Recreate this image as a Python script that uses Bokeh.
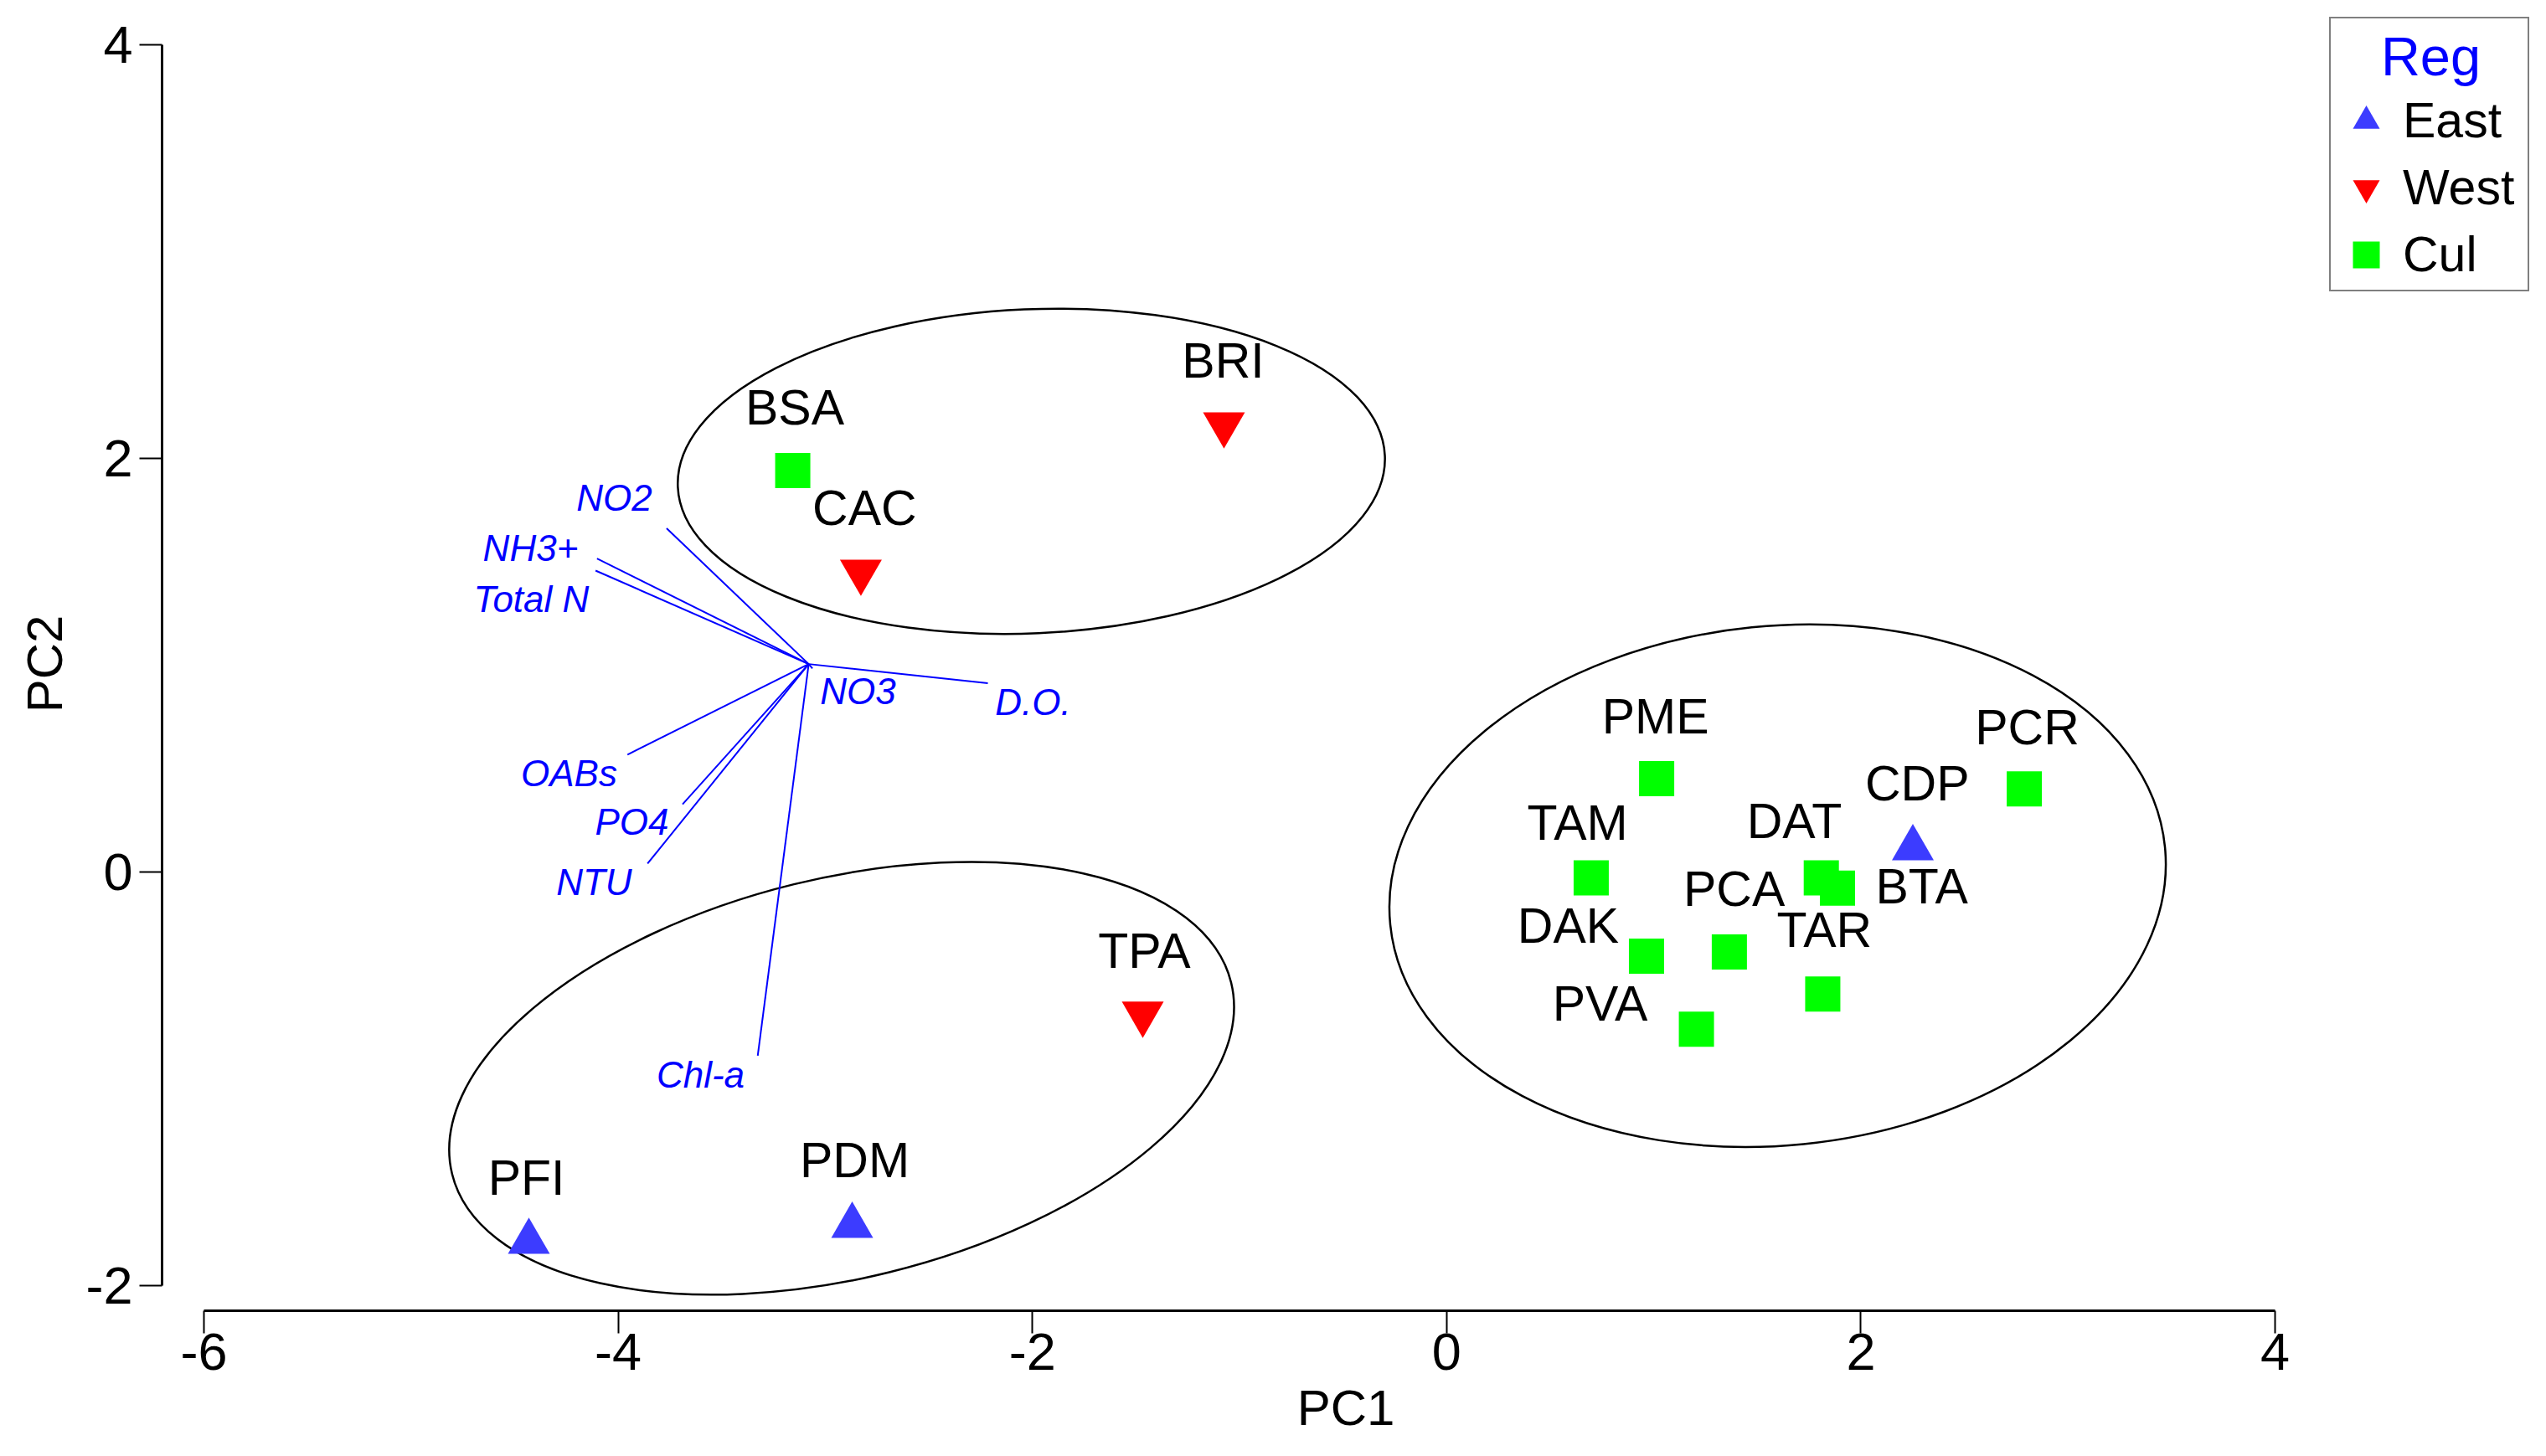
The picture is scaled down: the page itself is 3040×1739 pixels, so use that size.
from bokeh.plotting import figure
from bokeh.models import Range1d, FixedTicker, Legend, LegendItem, Label
from bokeh.core.properties import value
from bokeh.embed import file_html
from bokeh.resources import INLINE

# ---- data ----
east_names = ["PFI", "PDM", "CDP"]
east_x = [-4.431, -2.870, 2.251]
east_y = [-1.787, -1.710, 0.116]

west_names = ["BRI", "CAC", "TPA"]
west_x = [-1.075, -2.828, -1.467]
west_y = [2.165, 1.452, -0.685]

cul_names = ["BSA", "PME", "TAM", "DAT", "BTA", "PCR", "DAK", "PCA", "TAR", "PVA"]
cul_x = [-3.157, 1.014, 0.698, 1.809, 1.887, 2.789, 0.965, 1.365, 1.816, 1.206]
cul_y = [1.942, 0.452, -0.028, -0.028, -0.078, 0.402, -0.406, -0.386, -0.590, -0.760]

site_labels = ["BSA", "CAC", "BRI", "TPA", "PFI", "PDM", "PME", "TAM",
               "DAT", "BTA", "CDP", "PCR", "DAK", "PCA", "TAR", "PVA"]
site_label_x = [-3.147, -2.810, -1.079, -1.459, -4.443, -2.858, 1.008, 0.632,
                1.679, 2.294, 2.272, 2.803, 0.587, 1.388, 1.824, 0.741]
site_label_y = [2.157, 1.671, 2.385, -0.471, -1.568, -1.483, 0.663, 0.149,
                0.157, -0.159, 0.339, 0.610, -0.349, -0.171, -0.370, -0.726]

vec_origin_x = -3.080
vec_origin_y = 1.006
var_names = ["NO2", "NH3+", "Total N", "NO3", "D.O.", "OABs", "PO4", "NTU", "Chl-a"]
var_x = [-3.766, -4.102, -4.109, -3.062, -2.215, -3.955, -3.689, -3.858, -3.326]
var_y = [1.662, 1.516, 1.458, 0.985, 0.913, 0.568, 0.328, 0.041, -0.888]
var_label_x = [-4.019, -4.423, -4.419, -2.842, -1.997, -4.237, -3.934, -4.116, -3.602]
var_label_y = [1.743, 1.500, 1.253, 0.808, 0.753, 0.408, 0.173, -0.115, -1.047]

ell_x = [-2.005, -2.921, 1.598]
ell_y = [1.938, -0.997, -0.066]
ell_w = [3.417, 3.873, 3.759]
ell_h = [1.567, 1.932, 2.511]
ell_angle = [0.044, 0.241, 0.100]

x_ticks = [-6, -4, -2, 0, 2, 4]
y_ticks = [-2, 0, 2, 4]
tick_text = {-6: "-6", -4: "-4", -2: "-2", 0: "0", 2: "2", 4: "4"}

legend_title = "Reg"
group_names = ["East", "West", "Cul"]

FONT = "Liberation Sans"

p = figure(width=3032, height=1739,
           x_range=Range1d(-6.202, 5.229), y_range=Range1d(-2.121, 4.134),
           output_backend="svg", toolbar_location=None,
           min_border_left=193, min_border_right=12,
           min_border_top=20, min_border_bottom=174)
p.outline_line_color = None
p.grid.visible = False
p.background_fill_color = "white"
p.border_fill_color = "white"

for ax, ticks, bnds, lab in ((p.xaxis[0], x_ticks, (-6, 4), "PC1"),
                             (p.yaxis[0], y_ticks, (-2, 4), "PC2")):
    ax.ticker = FixedTicker(ticks=ticks)
    ax.bounds = bnds
    ax.major_label_overrides = {t: tick_text[t] for t in ticks}
    ax.axis_label = lab
    ax.axis_label_text_font = FONT
    ax.axis_label_text_font_size = "60px"
    ax.axis_label_text_font_style = "normal"
    ax.axis_label_text_color = "black"
    ax.major_label_text_font = FONT
    ax.major_label_text_font_size = "63px"
    ax.major_label_text_color = "black"
    ax.axis_line_width = 3
    ax.axis_line_color = "black"
    ax.major_tick_line_width = 2
    ax.major_tick_line_color = "black"
    ax.major_tick_out = 27
    ax.major_tick_in = 0
    ax.minor_tick_line_color = None
p.xaxis.major_label_standoff = 0
p.yaxis.major_label_standoff = 8
p.xaxis.axis_label_standoff = 9
p.yaxis.axis_label_standoff = 12

# ellipses
p.ellipse(x=ell_x, y=ell_y, width=ell_w, height=ell_h, angle=ell_angle,
          fill_color=None, line_color="black", line_width=2.5)

# variable vectors
p.segment(x0=[vec_origin_x] * len(var_x), y0=[vec_origin_y] * len(var_y),
          x1=var_x, y1=var_y, line_color="#0000ff", line_width=2)
p.text(x=var_label_x, y=var_label_y, text=var_names,
       text_font=value(FONT), text_font_size="44px", text_font_style="italic",
       text_color="#0000ff", text_align="center", text_baseline="alphabetic",
       y_offset=-17)

# sites
r_e = p.scatter(east_x, east_y, marker="triangle", size=50,
                fill_color="#3c3cff", line_color=None)
r_w = p.scatter(west_x, west_y, marker="inverted_triangle", size=50,
                fill_color="#ff0000", line_color=None)
r_c = p.scatter(cul_x, cul_y, marker="square", size=42,
                fill_color="#00ff00", line_color=None)

p.text(x=site_label_x, y=site_label_y, text=site_labels,
       text_font=value(FONT), text_font_size="59px", text_color="black",
       text_align="center", text_baseline="alphabetic", y_offset=-22)

# centred legend heading (drawn below the transparent legend box)
p.add_layout(Label(x=4.752, y=3.849, text=legend_title, text_align="center",
                   text_baseline="alphabetic", text_font=FONT, y_offset=23,
                   text_font_size="65px", text_color="#0000ff"))

legend = Legend(items=[LegendItem(label=group_names[0], renderers=[r_e]),
                       LegendItem(label=group_names[1], renderers=[r_w]),
                       LegendItem(label=group_names[2], renderers=[r_c])],
                location="top_right", title="\u00a0")
legend.margin = 0
legend.padding = 2
legend.border_line_color = "black"
legend.border_line_width = 2.5
legend.background_fill_alpha = 0.0
legend.glyph_width = 80
legend.glyph_height = 80
legend.spacing = 0
legend.label_standoff = 4
legend.label_width = 147
legend.label_text_font = FONT
legend.label_text_font_size = "59px"
legend.label_text_color = "black"
legend.label_text_baseline = "middle"
legend.title_text_font = FONT
legend.title_text_font_size = "65px"
legend.title_text_font_style = "normal"
legend.title_standoff = 5
p.add_layout(legend)

open("out.html", "w").write(file_html(p, INLINE))
